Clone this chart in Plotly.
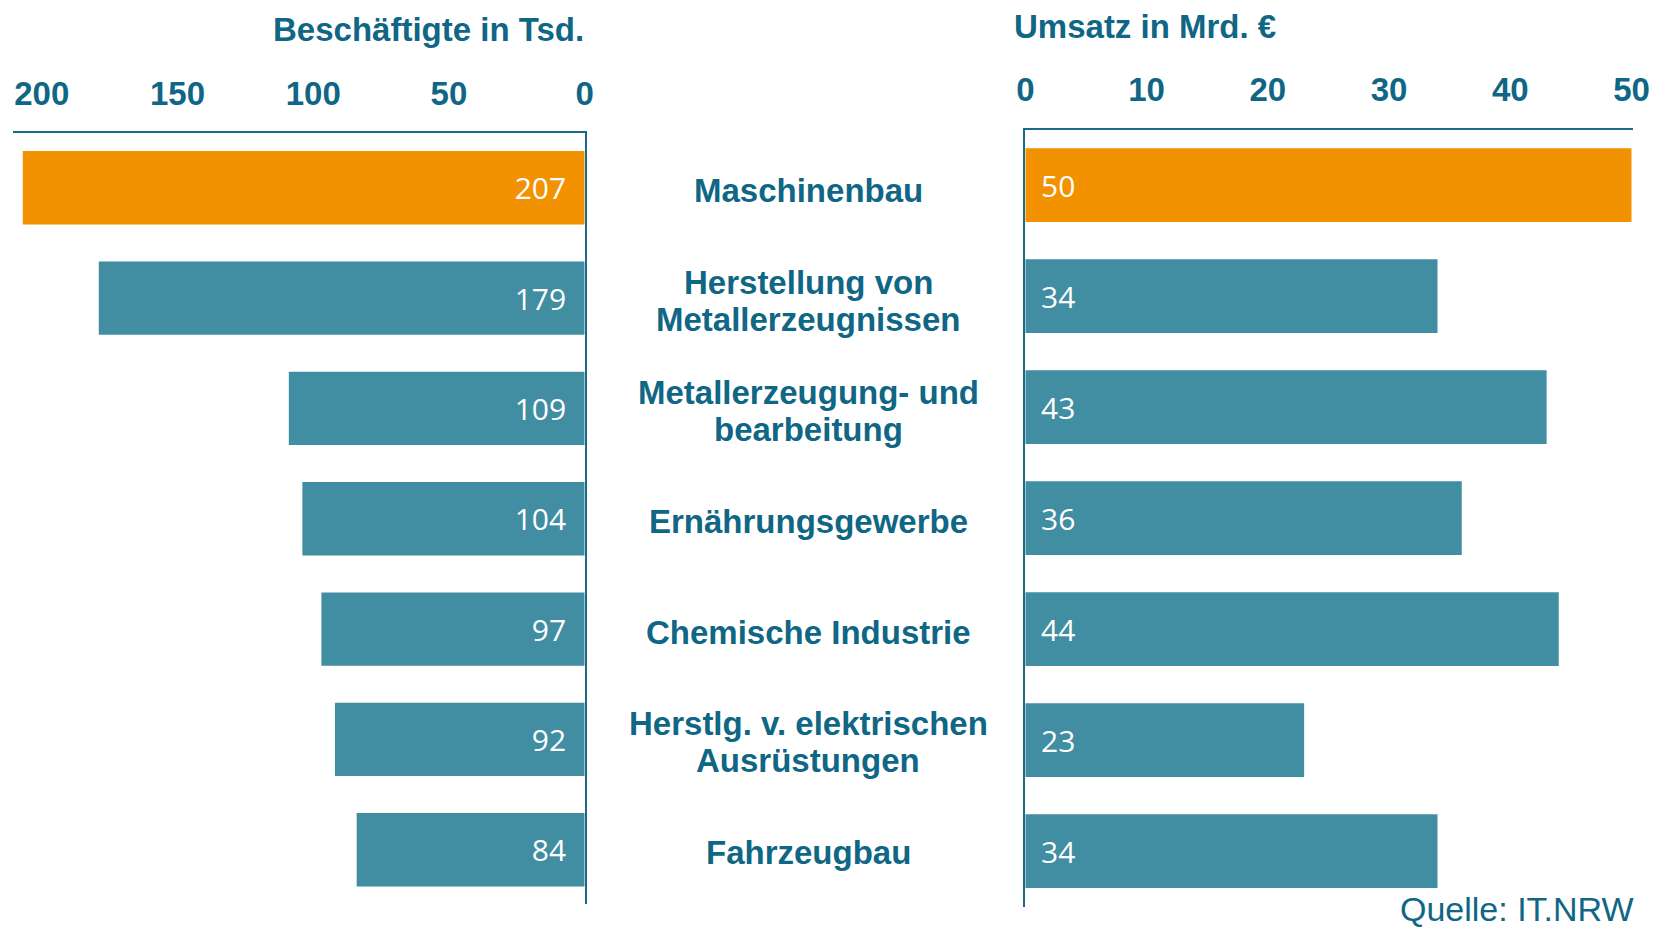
import plotly.graph_objects as go

# ---- data ----
categories = [
    "Maschinenbau",
    "Herstellung von<br>Metallerzeugnissen",
    "Metallerzeugung- und<br>bearbeitung",
    "Ernährungsgewerbe",
    "Chemische Industrie",
    "Herstlg. v. elektrischen<br>Ausrüstungen",
    "Fahrzeugbau",
]
beschaeftigte = [207, 179, 109, 104, 97, 92, 84]      # Tsd.
umsatz = [50, 34, 43, 36, 44, 23, 34]                 # Mrd. €
left_ticks = [0, 50, 100, 150, 200]
right_ticks = [0, 10, 20, 30, 40, 50]
title_left = "Beschäftigte in Tsd."
title_right = "Umsatz in Mrd. €"
source = "Quelle: IT.NRW"

# ---- style ----
W, H = 1655, 927
TEAL = "#418da2"
ORANGE = "#f39200"
DARK = "#0f6685"
BOLD = "Liberation Sans, Arial, sans-serif"
VALFONT = "Open Sans, Noto Sans, sans-serif"
NB = "\u00a0"
THIN = "\u2009"

cat_keys = [c.replace("<br>", " ") for c in categories]
colors = [ORANGE] + [TEAL] * (len(categories) - 1)


def px_x(p):
    return p / W


def px_y(p):
    return 1 - p / H


fig = go.Figure()
fig.add_trace(go.Bar(
    x=beschaeftigte, y=cat_keys, orientation="h",
    xaxis="x", yaxis="y",
    marker=dict(color=colors, line=dict(width=0)),
    width=0.665,
    texttemplate="%{x:.0f}" + NB * 2,
    textposition="inside", insidetextanchor="start", textangle=0,
    textfont=dict(family=VALFONT, size=30, color="white"),
    constraintext="none",
    hoverinfo="skip",
))
fig.add_trace(go.Bar(
    x=umsatz, y=cat_keys, orientation="h",
    xaxis="x2", yaxis="y2",
    marker=dict(color=colors, line=dict(width=0)),
    width=0.665,
    texttemplate=NB + THIN + "%{x:.0f}",
    textposition="inside", insidetextanchor="start", textangle=0,
    textfont=dict(family=VALFONT, size=30, color="white"),
    constraintext="none",
    hoverinfo="skip",
))

axis_common = dict(
    showgrid=False, zeroline=False, showline=True, automargin=False,
    linecolor="#1b6a86", linewidth=2, ticks="",
)
tickfont = dict(family=BOLD, size=33, color=DARK, weight="bold")

fig.update_layout(
    width=W, height=H,
    margin=dict(l=0, r=0, t=0, b=0),
    paper_bgcolor="white", plot_bgcolor="white",
    showlegend=False,
    bargap=0.335,
    xaxis=dict(
        domain=[px_x(13), px_x(584.7)], range=[210.6, 0],
        side="top", anchor="y", tickvals=left_ticks,
        tickfont=tickfont, ticklabelstandoff=13, **axis_common,
    ),
    yaxis=dict(
        domain=[px_y(904), px_y(133.3)], range=[6.492, -0.494],
        type="category", side="right", anchor="x",
        showticklabels=False, **axis_common,
    ),
    xaxis2=dict(
        domain=[px_x(1025.3), px_x(1632.7)], range=[0, 50.1],
        side="top", anchor="y2", tickvals=right_ticks,
        tickfont=tickfont, ticklabelstandoff=14, **axis_common,
    ),
    yaxis2=dict(
        domain=[px_y(906.7), px_y(129.7)], range=[6.5, -0.5],
        type="category", side="left", anchor="x2",
        showticklabels=False, **axis_common,
    ),
)

annotations = [
    dict(text=title_left, x=px_x(586), y=px_y(29), xref="paper", yref="paper",
         xanchor="right", yanchor="middle", showarrow=False,
         font=dict(family=BOLD, size=33, color=DARK, weight="bold")),
    dict(text=title_right, x=px_x(1012), y=px_y(27), xref="paper", yref="paper",
         xanchor="left", yanchor="middle", showarrow=False,
         font=dict(family=BOLD, size=33, color=DARK, weight="bold")),
    dict(text=source, x=px_x(1636), y=px_y(909), xref="paper", yref="paper",
         xanchor="right", yanchor="middle", showarrow=False,
         font=dict(family="Liberation Sans, Arial, sans-serif", size=34, color=DARK)),
]
LINE_PITCH = 37
for key, label in zip(cat_keys, categories):
    lines = label.split("<br>")
    n = len(lines)
    for i, line in enumerate(lines):
        annotations.append(dict(
            text=line, x=px_x(808), y=key, xref="paper", yref="y",
            xanchor="center", yanchor="middle", showarrow=False,
            yshift=((n - 1) / 2 - i) * LINE_PITCH - 3,
            font=dict(family=BOLD, size=33, color=DARK, weight="bold"),
        ))
fig.update_layout(annotations=annotations)

fig.write_html(
    "out.html",
    config={"displayModeBar": False},
    post_script="document.body.style.margin='0';document.body.style.overflow='hidden';",
)
